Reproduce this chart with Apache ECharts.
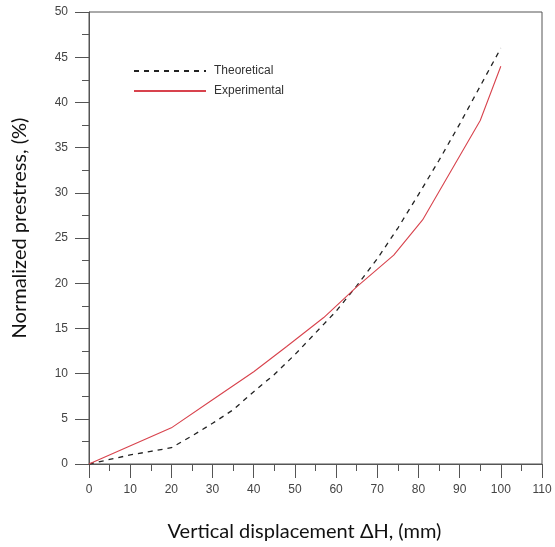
<!DOCTYPE html>
<html><head><meta charset="utf-8">
<script src="https://cdn.jsdelivr.net/npm/echarts@6/dist/echarts.min.js"></script>
<style>html,body{margin:0;padding:0;background:#fff}#c{width:555px;height:547px}</style>
</head><body><div id="c"></div>
<script>
// Data
const theoX = [0,5,10,15,20,25,30,35,40,45,50,55,60,65,70,75,80,85,90,95,100];
const theoY = [0,0.5,1.0,1.4,1.8,3.1,4.5,6.0,8.0,9.9,12.1,14.5,16.9,19.7,22.7,26.1,29.8,33.6,37.6,41.8,46];
const expX = [0,20,30,40,48,57,65,74,81,88,95,100];
const expY = [0,4,7.1,10.2,13,16.2,19.6,23.1,27,32.5,38,44];
const xTitle = 'Vertical displacement ΔH, (mm)';
const yTitle = 'Normalized prestress, (%)';
const seriesNames = ['Theoretical','Experimental'];

const zip = (a,b)=>a.map((v,i)=>[v,b[i]]);
const chart = echarts.init(document.getElementById('c'));
const axisCol = '#555';
chart.setOption({
  animation:false,
  grid:{left:89,right:13,top:12,bottom:83,show:true,borderColor:axisCol,borderWidth:1,
        containLabel:false,outerBoundsMode:'none'},
  legend:{
    orient:'vertical',left:133,top:65,itemWidth:72,itemHeight:14,itemGap:8,padding:0,
    itemStyle:{opacity:0},
    textStyle:{fontFamily:'Liberation Sans, Arial',fontSize:12,color:'#333',padding:[0,0,0,3]},
    data:seriesNames
  },
  xAxis:{
    type:'value',min:0,max:110,interval:10,
    name:xTitle,nameLocation:'middle',nameGap:58,
    nameTextStyle:{fontFamily:'Lato, Open Sans',fontSize:20,color:'#111',padding:[0,22,0,0]},
    axisLine:{lineStyle:{color:axisCol,width:1}},
    axisTick:{length:14,lineStyle:{color:axisCol}},
    minorTick:{show:true,splitNumber:2,length:7,lineStyle:{color:axisCol}},
    axisLabel:{margin:20,fontFamily:'Liberation Sans, Arial',fontSize:12,color:'#444'},
    splitLine:{show:false}
  },
  yAxis:{
    type:'value',min:0,max:50,interval:5,
    name:yTitle,nameLocation:'middle',nameGap:59,
    nameTextStyle:{fontFamily:'Lato, Open Sans',fontSize:20,color:'#111',padding:[0,0,0,20]},
    axisLine:{show:true,lineStyle:{color:axisCol,width:1}},
    axisTick:{show:true,length:14,lineStyle:{color:axisCol}},
    minorTick:{show:true,splitNumber:2,length:7,lineStyle:{color:axisCol}},
    axisLabel:{margin:21,fontFamily:'Liberation Sans, Arial',fontSize:12,color:'#444'},
    splitLine:{show:false}
  },
  series:[
    {name:seriesNames[0],type:'line',data:zip(theoX,theoY),symbol:'none',
     lineStyle:{color:'#222',width:1.3,type:[5,5]},itemStyle:{color:'#222'}},
    {name:seriesNames[1],type:'line',data:zip(expX,expY),symbol:'none',
     lineStyle:{color:'#d8434d',width:1.1},itemStyle:{color:'#d8434d'}}
  ]
});
</script></body></html>
